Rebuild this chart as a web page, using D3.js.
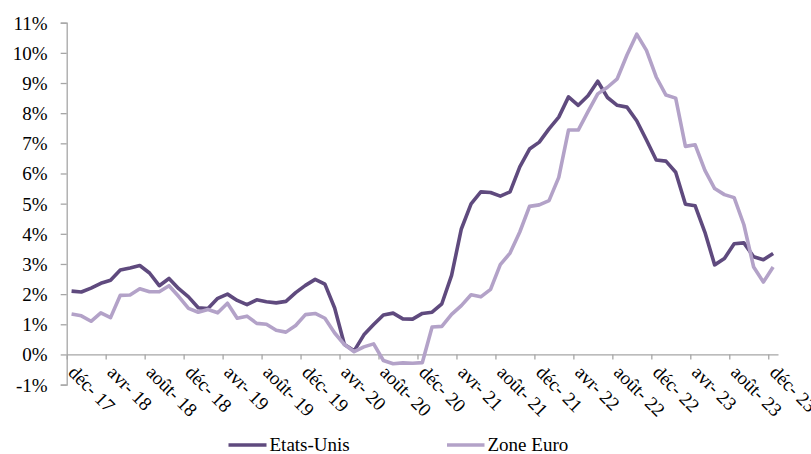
<!DOCTYPE html>
<html>
<head>
<meta charset="utf-8">
<script src="https://cdn.jsdelivr.net/npm/d3@7"></script>
<style>
  html, body { margin: 0; padding: 0; background: #fff; }
  svg { display: block; }
</style>
</head>
<body>
<svg id="chart" width="811" height="454"></svg>
<script>
// Monthly year-on-year inflation, Dec 2017 – Dec 2023 (%)
const monthNames = ["janv", "févr", "mars", "avr", "mai", "juin", "juil", "août", "sept", "oct", "nov", "déc"];
const years = [17, 18, 19, 20, 21, 22, 23];

const etatsUnis = [
  2.10,
  2.07, 2.20, 2.36, 2.46, 2.80, 2.87, 2.95, 2.70, 2.28, 2.52, 2.18, 1.91,
  1.55, 1.52, 1.86, 2.00, 1.79, 1.65, 1.81, 1.75, 1.71, 1.76, 2.05, 2.29,
  2.49, 2.33, 1.54, 0.33, 0.12, 0.65, 0.99, 1.31, 1.37, 1.18, 1.17, 1.36,
  1.40, 1.68, 2.62, 4.16, 4.99, 5.39, 5.37, 5.25, 5.39, 6.22, 6.81, 7.04,
  7.48, 7.87, 8.54, 8.26, 8.58, 9.06, 8.52, 8.26, 8.20, 7.75, 7.11, 6.45,
  6.41, 6.04, 4.98, 4.93, 4.05, 2.97, 3.18, 3.67, 3.70, 3.24, 3.14, 3.35
];

const zoneEuro = [
  1.34,
  1.28, 1.10, 1.38, 1.22, 1.96, 1.97, 2.18, 2.08, 2.08, 2.28, 1.92, 1.53,
  1.40, 1.49, 1.38, 1.70, 1.20, 1.27, 1.03, 1.00, 0.80, 0.74, 0.96, 1.32,
  1.36, 1.20, 0.71, 0.33, 0.09, 0.25, 0.35, -0.20, -0.31, -0.28, -0.29, -0.27,
  0.91, 0.93, 1.33, 1.62, 1.98, 1.91, 2.16, 2.98, 3.36, 4.06, 4.91, 4.96,
  5.10, 5.87, 7.44, 7.44, 8.05, 8.64, 8.86, 9.14, 9.93, 10.62, 10.08, 9.20,
  8.60, 8.50, 6.90, 6.95, 6.10, 5.50, 5.30, 5.20, 4.30, 2.90, 2.40, 2.90
];

const xTickLabels = [
  "déc- 17", "avr- 18", "août- 18", "déc- 18", "avr- 19", "août- 19", "déc- 19",
  "avr- 20", "août- 20", "déc- 20", "avr- 21", "août- 21", "déc- 21", "avr- 22",
  "août- 22", "déc- 22", "avr- 23", "août- 23", "déc- 23"
];
const yTicks = [-1, 0, 1, 2, 3, 4, 5, 6, 7, 8, 9, 10, 11];

const seriesNames = ["Etats-Unis", "Zone Euro"];
const seriesColors = ["#5f4a7e", "#b3a2c8"];

// month categories: déc-17, janv-18, ..., déc-23
const categories = ["déc-17"];
years.slice(1).forEach(y => monthNames.forEach(m => categories.push(m + "-" + y)));

const serifFont = "'Liberation Serif', 'Times New Roman', Times, serif";
const svg = d3.select("#chart").attr("font-family", serifFont);
const axisColor = "#a6a6a6";

// category axis: each month occupies one slot, points sit in the middle of it
const x = d3.scaleLinear().domain([0, categories.length]).range([66.7, 778]);
const y = d3.scaleLinear().domain([-1, 11]).range([384.6, 22.7]);

// y axis
const yAxis = svg.append("g")
  .attr("transform", `translate(${x(0)},0)`)
  .call(d3.axisLeft(y).tickValues(yTicks).tickSize(6).tickPadding(13)
    .tickFormat(d => d + "%"));
yAxis.attr("font-family", serifFont).attr("font-size", 19);
yAxis.select(".domain").attr("stroke", axisColor).attr("stroke-width", 1.3);
yAxis.selectAll(".tick line").attr("stroke", axisColor).attr("stroke-width", 1.3);
yAxis.selectAll(".tick text")
  .attr("fill", "#000")
  .attr("dy", "0.34em");

// x axis at 0%
const tickIdx = d3.range(0, categories.length, 4);
const xAxis = svg.append("g")
  .attr("transform", `translate(0,${y(0)})`)
  .call(d3.axisBottom(x).tickValues(tickIdx).tickSize(5).tickSizeOuter(0)
    .tickFormat((d, i) => xTickLabels[i]));
xAxis.attr("font-family", serifFont).attr("font-size", 19);
xAxis.select(".domain").attr("stroke", axisColor).attr("stroke-width", 1.3);
xAxis.selectAll(".tick line").attr("stroke", axisColor).attr("stroke-width", 1.3);
xAxis.selectAll(".tick text")
  .attr("fill", "#000")
  .attr("text-anchor", "start")
  .attr("x", 0).attr("y", 0).attr("dy", 0)
  .attr("transform", "translate(0,19) rotate(45)");

// series lines
const line = d3.line()
  .x((d, i) => x(i + 0.5))
  .y(d => y(d));

[etatsUnis, zoneEuro].forEach((vals, k) => {
  svg.append("path")
    .datum(vals)
    .attr("fill", "none")
    .attr("stroke", seriesColors[k])
    .attr("stroke-width", 3.6)
    .attr("stroke-linejoin", "round")
    .attr("d", line);
});

// legend
const legendPos = [{ x0: 228.5, x1: 266.5 }, { x0: 447, x1: 484.5 }];
const legendY = 445;
const legend = svg.append("g").attr("font-family", serifFont).attr("font-size", 19);
seriesNames.forEach((name, k) => {
  legend.append("line")
    .attr("x1", legendPos[k].x0).attr("x2", legendPos[k].x1)
    .attr("y1", legendY).attr("y2", legendY)
    .attr("stroke", seriesColors[k]).attr("stroke-width", 3.6);
  legend.append("text")
    .attr("x", legendPos[k].x1 + 3)
    .attr("y", legendY)
    .attr("dy", "0.34em")
    .attr("fill", "#000")
    .text(name);
});
</script>
</body>
</html>
